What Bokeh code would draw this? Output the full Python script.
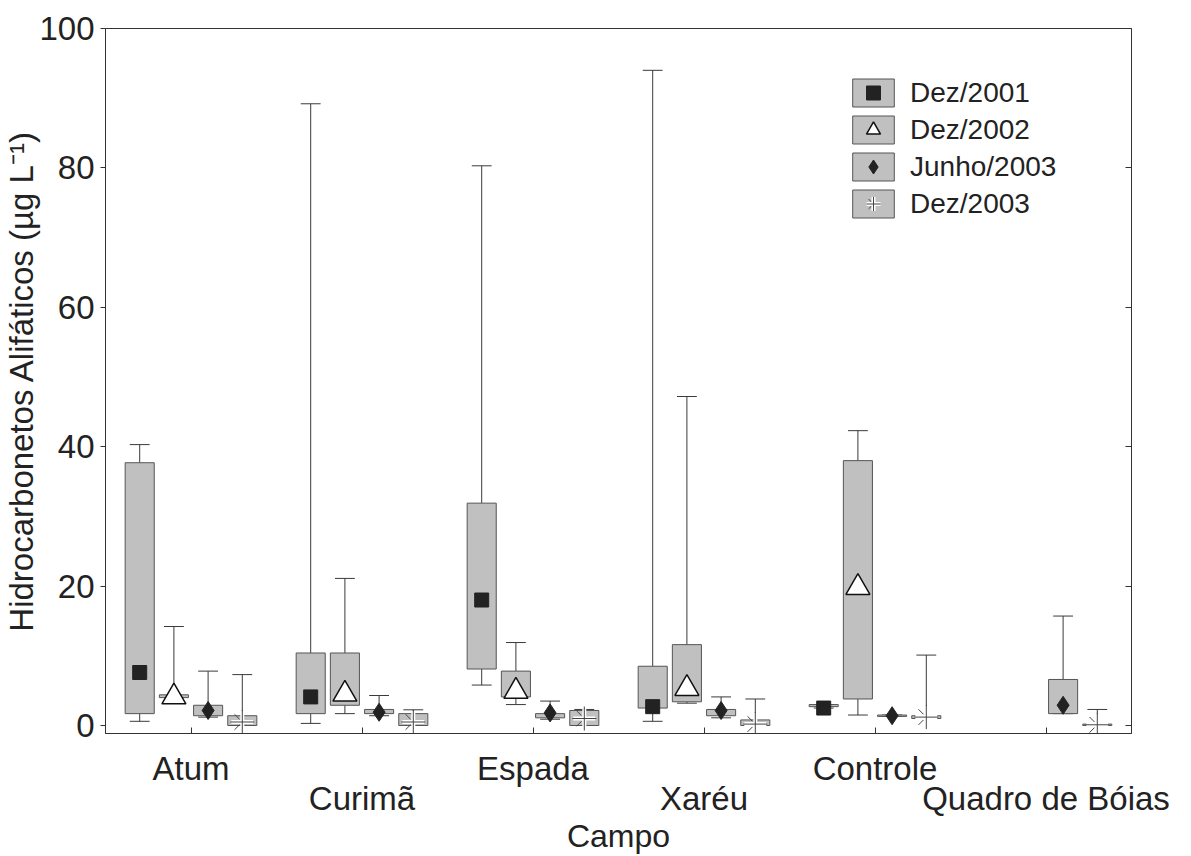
from bokeh.plotting import figure
from bokeh.models import Range1d, LinearAxis, FixedTicker, Legend, LegendItem, ColumnDataSource
from bokeh.embed import file_html
from bokeh.resources import INLINE

# ---------------- data ----------------
campos = ["Atum", "Curimã", "Espada", "Xaréu", "Controle", "Quadro de Bóias"]
series = ["Dez/2001", "Dez/2002", "Junho/2003", "Dez/2003"]
y_ticks = [0, 20, 40, 60, 80, 100]

# lower whisker, box bottom, box top, upper whisker, central marker (None = no data)
dez2001_wlo = [0.6, 0.3, 5.8, 0.6, 2.5, None]
dez2001_q1 = [1.7, 1.7, 8.1, 2.5, 2.7, None]
dez2001_q3 = [37.7, 10.4, 31.9, 8.5, 3.0, None]
dez2001_whi = [40.3, 89.2, 80.3, 94.0, 3.0, None]
dez2001_mid = [7.6, 4.1, 18.0, 2.7, 2.5, None]

dez2002_wlo = [4.0, 1.7, 3.0, 3.2, 1.5, None]
dez2002_q1 = [4.0, 2.9, 4.1, 3.4, 3.8, None]
dez2002_q3 = [4.4, 10.4, 7.8, 11.6, 38.0, None]
dez2002_whi = [14.2, 21.1, 11.9, 47.2, 42.3, None]
dez2002_mid = [4.1, 4.5, 4.9, 5.3, 19.8, None]

jun2003_wlo = [1.2, 1.4, 0.9, 1.1, 1.3, 1.7]
jun2003_q1 = [1.4, 1.7, 1.1, 1.4, 1.3, 1.7]
jun2003_q3 = [2.9, 2.3, 1.7, 2.3, 1.5, 6.6]
jun2003_whi = [7.8, 4.3, 3.5, 4.1, 1.5, 15.7]
jun2003_mid = [2.15, 1.9, 1.8, 2.15, 1.4, 2.9]

dez2003_wlo = [0.0, 0.0, 0.0, 0.0, 1.0, 0.0]
dez2003_q1 = [0.0, 0.0, 0.0, 0.0, 1.0, 0.0]
dez2003_q3 = [1.4, 1.7, 2.15, 0.8, 1.4, 0.2]
dez2003_whi = [7.3, 2.25, 2.3, 3.8, 10.1, 2.3]
dez2003_mid = [0.5, 0.5, 1.0, 0.2, 1.2, 0.1]

all_series = [
    (dez2001_wlo, dez2001_q1, dez2001_q3, dez2001_whi, dez2001_mid),
    (dez2002_wlo, dez2002_q1, dez2002_q3, dez2002_whi, dez2002_mid),
    (jun2003_wlo, jun2003_q1, jun2003_q3, jun2003_whi, jun2003_mid),
    (dez2003_wlo, dez2003_q1, dez2003_q3, dez2003_whi, dez2003_mid),
]

# ---------------- style ----------------
FONT = "Liberation Sans"
TXT = "#222222"
BOX_FILL = "#c0c0c0"
BOX_LINE = "#555555"
WHISK = "#3a3a3a"
offsets = [-0.3, -0.1, 0.1, 0.3]
box_w = 0.17
cap_half = 0.058

p = figure(width=1191, height=856, output_backend="svg", toolbar_location=None,
           x_range=Range1d(0, 6), y_range=Range1d(-1.15, 100),
           min_border_left=105, min_border_right=60, min_border_top=28, min_border_bottom=123,
           background_fill_color="white", border_fill_color="white")
p.xgrid.visible = False
p.ygrid.visible = False
p.outline_line_color = "#333333"
p.outline_line_width = 1

# y axis (left)
ya = p.yaxis[0]
ya.ticker = FixedTicker(ticks=y_ticks)
ya.major_tick_out = 5
ya.major_tick_in = 0
ya.minor_tick_line_color = None
ya.axis_line_color = "#333333"
ya.major_tick_line_color = "#333333"
ya.major_label_text_font = FONT
ya.major_label_text_font_size = "33px"
ya.major_label_text_color = TXT
ya.major_label_standoff = 6
ya.axis_label = "Hidrocarbonetos Alifáticos (µg L⁻¹)"
ya.axis_label_text_font = FONT
ya.axis_label_text_font_size = "33px"
ya.axis_label_text_font_style = "normal"
ya.axis_label_text_color = TXT
ya.axis_label_standoff = -4

# right axis: inward ticks only
ra = LinearAxis(ticker=FixedTicker(ticks=y_ticks), major_tick_in=6, major_tick_out=0,
                minor_tick_line_color=None, axis_line_color="#333333",
                major_tick_line_color="#333333", major_label_text_alpha=0,
                major_label_text_font_size="8px")
p.add_layout(ra, "right")

# x axis: first row of labels
centers = [i + 0.5 for i in range(len(campos))]
xa = p.xaxis[0]
xa.ticker = FixedTicker(ticks=centers)
xa.major_label_overrides = {c: (campos[i] if i % 2 == 0 else "") for i, c in enumerate(centers)}
xa.major_tick_in = 6
xa.major_tick_out = 0
xa.minor_tick_line_color = None
xa.axis_line_color = "#333333"
xa.major_tick_line_color = "#333333"
xa.major_label_text_font = FONT
xa.major_label_text_font_size = "33px"
xa.major_label_text_color = TXT
xa.major_label_standoff = 16

# x axis: second (staggered) row of labels + axis title
xa2 = LinearAxis(ticker=FixedTicker(ticks=[c for i, c in enumerate(centers) if i % 2 == 1]),
                 major_label_overrides={c: campos[i] for i, c in enumerate(centers) if i % 2 == 1},
                 axis_line_color=None, major_tick_line_color=None, minor_tick_line_color=None,
                 major_tick_in=0, major_tick_out=0,
                 major_label_text_font=FONT, major_label_text_font_size="33px",
                 major_label_text_color=TXT, major_label_standoff=-10,
                 axis_label="Campo", axis_label_text_font=FONT, axis_label_text_font_size="32px",
                 axis_label_text_font_style="normal", axis_label_text_color=TXT,
                 axis_label_standoff=-2)
p.add_layout(xa2, "below")

legend_items = []
for k, (wlo, q1, q3, whi, mid) in enumerate(all_series):
    idx = [i for i in range(len(campos)) if mid[i] is not None]
    xs = [centers[i] + offsets[k] for i in idx]
    src = ColumnDataSource(dict(
        x=xs,
        xl=[x - cap_half for x in xs],
        xr=[x + cap_half for x in xs],
        wlo=[wlo[i] for i in idx], q1=[q1[i] for i in idx],
        q3=[q3[i] for i in idx], whi=[whi[i] for i in idx],
        mid=[mid[i] for i in idx],
    ))
    p.segment(x0="x", y0="q3", x1="x", y1="whi", source=src, line_color=WHISK, line_width=1)
    p.segment(x0="x", y0="q1", x1="x", y1="wlo", source=src, line_color=WHISK, line_width=1)
    p.segment(x0="xl", y0="whi", x1="xr", y1="whi", source=src, line_color=WHISK, line_width=1)
    p.segment(x0="xl", y0="wlo", x1="xr", y1="wlo", source=src, line_color=WHISK, line_width=1)
    box = p.vbar(x="x", width=box_w, bottom="q1", top="q3", source=src,
                 fill_color=BOX_FILL, line_color=BOX_LINE, line_width=1)
    rs = [box]
    if k == 0:
        rs.append(p.scatter("x", "mid", source=src, marker="square", size=14,
                            fill_color="#222222", line_color="#222222"))
    elif k == 1:
        rs.append(p.scatter("x", "mid", source=src, marker="triangle", size=24,
                            fill_color="white", line_color="#111111", line_width=1.5))
    elif k == 2:
        rs.append(p.scatter("x", "mid", source=src, marker="diamond", size=18,
                            fill_color="#222222", line_color="#222222"))
    else:
        rs.append(p.scatter("x", "mid", source=src, marker="x", size=22,
                            line_color="#444444", line_width=1, line_dash="7 17"))
        rs.append(p.scatter("x", "mid", source=src, marker="cross", size=22,
                            line_color="white", line_width=4))
        rs.append(p.scatter("x", "mid", source=src, marker="cross", size=24,
                            line_color="#444444", line_width=1))
    legend_items.append(LegendItem(label=series[k], renderers=rs))

legend = Legend(items=legend_items, location=(742, 512), orientation="vertical",
                glyph_width=52, glyph_height=35, spacing=2, padding=0, margin=0,
                label_standoff=11, label_text_font=FONT, label_text_font_size="28px",
                label_text_color=TXT, border_line_color=None, background_fill_alpha=0)
p.add_layout(legend, "center")

open("out.html", "w").write(file_html(p, INLINE))
